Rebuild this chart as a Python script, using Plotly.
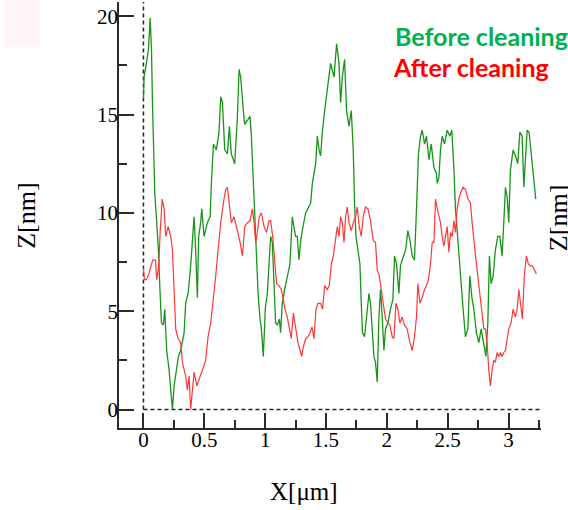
import plotly.graph_objects as go

# ---- data ----
before_x = [0.000, 0.005, 0.019, 0.041, 0.055, 0.066, 0.074, 0.082, 0.093, 0.109, 0.123, 0.134, 0.148, 0.164,
            0.175, 0.191, 0.211, 0.224, 0.238, 0.252, 0.265, 0.287, 0.306, 0.334, 0.347, 0.367, 0.388, 0.402,
            0.416, 0.429, 0.443, 0.454, 0.470, 0.479, 0.498, 0.525, 0.548, 0.558, 0.575, 0.599, 0.621, 0.635,
            0.649, 0.668, 0.690, 0.706, 0.722, 0.750, 0.772, 0.786, 0.799, 0.821, 0.832, 0.854, 0.876, 0.887,
            0.897, 0.903, 0.914, 0.925, 0.942, 0.958, 0.969, 0.985, 1.002, 1.018, 1.034, 1.045, 1.059, 1.073,
            1.086, 1.100, 1.117, 1.127, 1.141, 1.160, 1.182, 1.204, 1.223, 1.237, 1.250, 1.264, 1.278, 1.291,
            1.305, 1.333, 1.352, 1.374, 1.388, 1.401, 1.415, 1.429, 1.443, 1.456, 1.470, 1.489, 1.511, 1.525,
            1.538, 1.566, 1.587, 1.607, 1.620, 1.634, 1.653, 1.669, 1.689, 1.708, 1.724, 1.735, 1.746, 1.763,
            1.779, 1.790, 1.800, 1.817, 1.833, 1.853, 1.866, 1.880, 1.894, 1.907, 1.921, 1.935, 1.948, 1.962,
            1.976, 1.989, 2.009, 2.030, 2.050, 2.063, 2.080, 2.099, 2.112, 2.126, 2.154, 2.173, 2.190, 2.209,
            2.227, 2.244, 2.260, 2.277, 2.291, 2.310, 2.326, 2.346, 2.365, 2.387, 2.408, 2.414, 2.428, 2.441,
            2.455, 2.474, 2.496, 2.518, 2.534, 2.551, 2.564, 2.578, 2.592, 2.611, 2.627, 2.646, 2.666, 2.682,
            2.699, 2.715, 2.736, 2.756, 2.775, 2.797, 2.814, 2.830, 2.843, 2.857, 2.874, 2.892, 2.912, 2.929,
            2.947, 2.961, 2.975, 2.989, 3.002, 3.016, 3.038, 3.057, 3.076, 3.093, 3.112, 3.126, 3.139, 3.153,
            3.169, 3.186, 3.208, 3.224]
before_z = [15.8, 16.9, 17.4, 18.3, 19.9, 18.3, 15.6, 13.2, 11.0, 9.5, 8.1, 6.3, 4.4, 4.3,
            5.1, 3.0, 2.0, 1.0, 0.0, 1.2, 1.7, 2.7, 3.0, 3.9, 5.4, 5.9, 7.3, 8.5,
            9.8, 8.1, 5.7, 8.8, 9.5, 10.2, 8.8, 9.5, 9.8, 11.5, 13.5, 13.2, 14.1, 15.9,
            15.6, 13.2, 13.0, 14.4, 13.0, 12.5, 14.9, 17.3, 16.9, 15.2, 14.5, 14.7, 14.9, 13.9,
            12.5, 11.0, 9.3, 8.1, 5.9, 4.6, 4.1, 2.7, 5.2, 5.9, 7.6, 8.8, 8.5, 5.9,
            4.4, 4.3, 4.6, 3.9, 5.4, 6.1, 6.8, 7.4, 9.8, 9.3, 8.8, 8.8, 7.6, 8.5,
            9.1, 10.0, 10.2, 10.5, 11.5, 12.0, 12.5, 13.9, 13.2, 12.9, 14.1, 15.2, 16.4, 16.9,
            17.6, 16.9, 18.6, 17.6, 15.6, 16.9, 17.8, 15.2, 14.4, 15.2, 13.2, 10.5, 8.8, 8.1,
            7.4, 5.4, 3.9, 3.7, 4.7, 5.9, 5.4, 4.1, 2.7, 2.4, 1.4, 4.7, 6.1, 4.7,
            3.0, 4.1, 4.4, 5.1, 5.6, 7.8, 7.4, 5.9, 7.3, 7.6, 8.1, 9.1, 8.6, 7.8,
            7.6, 10.2, 13.0, 13.9, 14.2, 13.5, 13.9, 12.7, 13.5, 12.3, 12.0, 11.5, 11.8, 13.2,
            13.9, 13.5, 14.2, 13.9, 14.2, 12.3, 10.2, 9.1, 8.1, 6.4, 5.1, 3.7, 4.1, 6.8,
            5.7, 5.1, 3.9, 3.4, 4.1, 3.4, 2.7, 4.4, 7.8, 6.4, 6.8, 8.1, 8.8, 8.8,
            7.8, 9.5, 11.3, 10.8, 9.5, 12.2, 13.2, 12.9, 12.5, 14.1, 13.9, 11.3, 12.9, 14.2,
            14.1, 13.0, 11.5, 10.7]

after_x = [0.000, 0.008, 0.025, 0.049, 0.076, 0.099, 0.109, 0.126, 0.137, 0.154, 0.170, 0.183, 0.203, 0.224,
           0.238, 0.252, 0.265, 0.285, 0.306, 0.320, 0.334, 0.347, 0.361, 0.375, 0.388, 0.402, 0.416, 0.438,
           0.457, 0.484, 0.511, 0.531, 0.553, 0.575, 0.594, 0.613, 0.635, 0.657, 0.676, 0.690, 0.704, 0.722,
           0.745, 0.764, 0.780, 0.794, 0.813, 0.832, 0.854, 0.876, 0.895, 0.909, 0.922, 0.936, 0.952, 0.969,
           0.991, 1.012, 1.032, 1.045, 1.062, 1.078, 1.094, 1.114, 1.133, 1.149, 1.163, 1.182, 1.199, 1.215,
           1.232, 1.250, 1.270, 1.287, 1.300, 1.314, 1.333, 1.352, 1.369, 1.385, 1.401, 1.418, 1.434, 1.456,
           1.472, 1.489, 1.511, 1.527, 1.544, 1.560, 1.576, 1.593, 1.607, 1.620, 1.634, 1.648, 1.661, 1.675,
           1.689, 1.708, 1.724, 1.743, 1.757, 1.773, 1.790, 1.806, 1.825, 1.845, 1.866, 1.888, 1.907, 1.921,
           1.938, 1.954, 1.970, 1.989, 2.009, 2.025, 2.044, 2.058, 2.075, 2.091, 2.107, 2.126, 2.145, 2.167,
           2.190, 2.209, 2.227, 2.244, 2.255, 2.272, 2.291, 2.310, 2.326, 2.342, 2.359, 2.373, 2.387, 2.400,
           2.414, 2.428, 2.441, 2.455, 2.469, 2.482, 2.496, 2.510, 2.523, 2.537, 2.551, 2.564, 2.578, 2.592,
           2.605, 2.627, 2.646, 2.666, 2.687, 2.701, 2.715, 2.729, 2.742, 2.756, 2.769, 2.783, 2.797, 2.810,
           2.824, 2.838, 2.851, 2.865, 2.879, 2.892, 2.906, 2.920, 2.934, 2.947, 2.961, 2.975, 2.989, 3.002,
           3.021, 3.038, 3.057, 3.071, 3.085, 3.098, 3.114, 3.130, 3.147, 3.163, 3.180, 3.196, 3.213, 3.229]
after_z = [7.2, 6.6, 6.6, 7.0, 7.6, 7.6, 6.6, 7.3, 9.0, 10.7, 10.2, 8.8, 9.3, 8.8,
           8.1, 5.9, 4.1, 3.6, 3.4, 2.4, 2.0, 1.7, 1.0, 1.7, 0.0, 1.2, 1.9, 1.2,
           1.5, 2.0, 2.5, 3.7, 4.4, 5.6, 6.8, 8.1, 9.5, 10.5, 11.2, 11.3, 10.5, 9.5,
           9.8, 9.3, 8.8, 8.5, 7.8, 9.3, 9.5, 9.6, 10.2, 9.5, 8.5, 9.0, 9.8, 10.0,
           9.3, 9.0, 9.6, 9.6, 8.8, 7.6, 6.4, 6.3, 6.1, 5.6, 5.1, 4.7, 4.1, 3.6,
           4.9, 4.1, 3.4, 3.0, 2.7, 3.2, 3.6, 3.7, 3.9, 4.2, 3.6, 5.1, 5.4, 5.4,
           5.1, 6.3, 6.1, 6.3, 7.4, 7.8, 8.6, 9.3, 8.8, 9.8, 9.5, 8.5, 9.8, 10.3,
           9.5, 9.1, 9.5, 9.8, 10.3, 9.3, 8.8, 9.8, 10.3, 10.2, 9.6, 8.6, 8.5, 7.1,
           6.8, 6.1, 5.4, 4.6, 4.4, 4.3, 3.7, 3.6, 5.4, 5.1, 4.4, 4.7, 4.3, 4.1,
           3.4, 3.0, 3.7, 4.7, 6.4, 5.4, 5.7, 6.1, 6.3, 6.6, 7.4, 8.5, 8.5, 10.7,
           10.2, 9.8, 9.5, 8.8, 8.3, 8.8, 9.3, 8.0, 9.0, 8.8, 9.6, 9.0, 10.2, 10.7,
           11.0, 11.3, 11.2, 10.7, 10.5, 9.5, 8.8, 7.8, 7.1, 6.3, 5.4, 4.7, 4.1, 4.1,
           3.4, 2.0, 1.2, 2.0, 2.5, 2.4, 2.9, 2.7, 2.9, 2.7, 2.9, 3.0, 3.7, 4.1,
           4.4, 5.1, 4.7, 5.1, 6.1, 5.4, 4.6, 6.8, 7.8, 7.4, 7.3, 7.3, 7.1, 6.9]

x_tick_vals = [0, 0.5, 1, 1.5, 2, 2.5, 3]
x_tick_text = ["0", "0.5", "1", "1.5", "2", "2.5", "3"]
y_tick_vals = [0, 5, 10, 15, 20]
y_tick_text = ["0", "5", "10", "15", "20"]
x_range = [-0.201, 3.267]
y_range = [-0.94, 20.72]

series_names = ["Before cleaning", "After cleaning"]
line_colors = ["rgb(24,148,24)", "rgb(255,55,55)"]
label_colors = ["#00B050", "#FF0000"]

SERIF = "Liberation Serif, Times New Roman, serif"
AXCOL = "#2a2a2a"

fig = go.Figure()
fig.add_trace(go.Scatter(x=before_x, y=before_z, mode="lines", name=series_names[0],
                         line=dict(color=line_colors[0], width=1.3), showlegend=False))
fig.add_trace(go.Scatter(x=after_x, y=after_z, mode="lines", name=series_names[1],
                         line=dict(color=line_colors[1], width=1.2), showlegend=False))

# dashed reference lines at x=0 and y=0
fig.add_shape(type="line", xref="x", yref="y", x0=0, x1=0, y0=0, y1=y_range[1],
              line=dict(color="#222", width=1.5, dash="4px,3px"), layer="below")
fig.add_shape(type="line", xref="x", yref="y", x0=0, x1=x_range[1], y0=0, y1=0,
              line=dict(color="#222", width=1.5, dash="4px,3px"), layer="below")
# faint artefact at top-left
fig.add_shape(type="rect", xref="paper", yref="paper", x0=-0.273, x1=-0.187, y0=0.894, y1=1.005,
              line=dict(width=0), fillcolor="rgba(250,225,235,0.35)")

ann = []
ann.append(dict(text="Z[nm]", xref="paper", yref="paper", x=-0.218, y=0.498, textangle=-90,
                showarrow=False, xanchor="center", yanchor="middle",
                font=dict(family=SERIF, size=26, color="black")))
ann.append(dict(text="X[μm]", xref="paper", yref="paper", x=0.438, y=-0.150,
                showarrow=False, xanchor="center", yanchor="middle",
                font=dict(family=SERIF, size=25, color="black")))
ann.append(dict(text="Z[nm]", xref="paper", yref="paper", x=1.043, y=0.493, textangle=-90,
                showarrow=False, xanchor="center", yanchor="middle",
                font=dict(family=SERIF, size=26, color="black")))
ann.append(dict(text="<b>" + series_names[0] + "</b>", xref="paper", yref="paper", x=0.649, y=0.921,
                showarrow=False, xanchor="left", yanchor="middle",
                font=dict(family="Lato, Open Sans, sans-serif", size=25, color=label_colors[0])))
ann.append(dict(text="<b>" + series_names[1] + "</b>", xref="paper", yref="paper", x=0.645, y=0.847,
                showarrow=False, xanchor="left", yanchor="middle",
                font=dict(family="Lato, Open Sans, sans-serif", size=25, color=label_colors[1])))

fig.update_layout(
    width=568, height=510,
    margin=dict(l=119, r=27, t=2, b=82),
    paper_bgcolor="white", plot_bgcolor="white",
    annotations=ann,
    xaxis=dict(range=x_range, tickvals=x_tick_vals, ticktext=x_tick_text,
               showgrid=False, zeroline=False, showline=True, linecolor=AXCOL, linewidth=1.5,
               ticks="inside", ticklen=15, tickwidth=1.5, tickcolor=AXCOL, ticklabelstandoff=-8,
               minor=dict(dtick=0.25, tick0=0, ticks="inside", ticklen=8, tickwidth=1.5, tickcolor=AXCOL),
               tickfont=dict(family=SERIF, size=21, color="black")),
    yaxis=dict(range=y_range, tickvals=y_tick_vals, ticktext=y_tick_text,
               showgrid=False, zeroline=False, showline=True, linecolor=AXCOL, linewidth=1.5,
               ticks="inside", ticklen=15, tickwidth=1.5, tickcolor=AXCOL, ticklabelstandoff=-5,
               minor=dict(dtick=2.5, tick0=0, ticks="inside", ticklen=8, tickwidth=1.5, tickcolor=AXCOL),
               tickfont=dict(family=SERIF, size=21, color="black")),
)

fig.write_html("out.html", config={"displayModeBar": False},
               post_script="document.body.style.margin='0';document.body.style.padding='0';")
